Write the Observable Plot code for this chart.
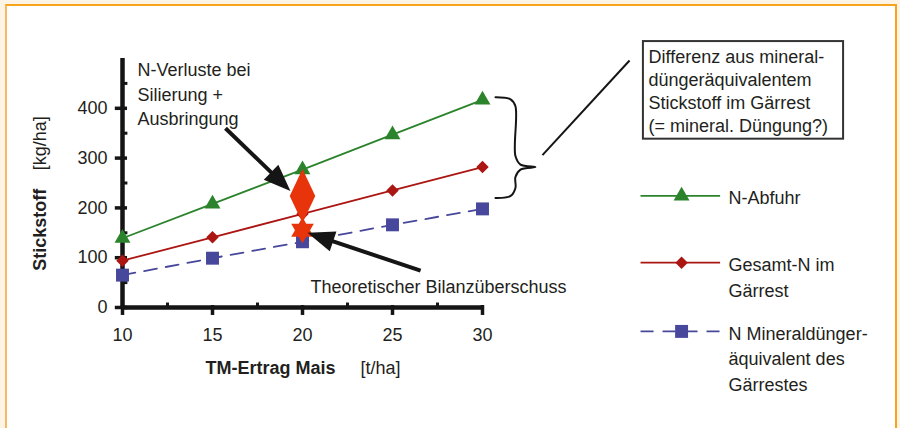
<!DOCTYPE html>
<html><head><meta charset="utf-8">
<script src="https://cdn.jsdelivr.net/npm/d3@7"></script>
<script src="https://cdn.jsdelivr.net/npm/@observablehq/plot@0.6"></script>
<style>
html,body{margin:0;padding:0;background:#fdf4e6;}
#wrap{position:relative;width:900px;height:428px;overflow:hidden;background:#fdf4e6;}
#panel{position:absolute;left:5px;top:4px;width:888px;height:500px;background:#fff;border:2px solid #f7a41c;border-left-color:#f8b860;}
#chart{position:absolute;left:0;top:0;}
</style></head><body>
<div id="wrap"><div id="panel"></div><div id="chart"></div></div>
<script>
// ---- data ----
const ertrag   = [10, 15, 20, 25, 30];          // TM-Ertrag Mais [t/ha]
const nAbfuhr  = [139, 208, 277, 347, 417];     // N-Abfuhr [kg/ha]
const gesamtN  = [94, 141, 188, 235, 282];      // Gesamt-N im Gärrest
const mineralN = [65, 99, 132, 166, 198];       // N Mineraldüngeräquivalent
const seriesNames = ["N-Abfuhr", "Gesamt-N im\nGärrest", "N Mineraldünger-\näquivalent des\nGärrestes"];
const xTicks = [10, 15, 20, 25, 30];
const yTicks = [0, 100, 200, 300, 400];
const xMinor = [12.5, 17.5, 22.5, 27.5];
const yMinor = [50, 150, 250, 350, 450];
const verlustPunkt = [{x: 20, y: 224}];       // N-Verluste bei Silierung + Ausbringung
const ueberschussPunkt = [{x: 20, y: 155}];   // Theoretischer Bilanzüberschuss

// ---- styles ----
const FONT = "'Liberation Sans', Arial, Helvetica, sans-serif";
const TXT = "#231f20";
const AX = "#151515";
const cGreen = "#2b832b", cRed = "#ab1512", cBlue = "#47479c", cHi = "#e8340a";
const dims = {width: 900, height: 428, marginLeft: 122, marginRight: 418, marginTop: 58, marginBottom: 121,
  x: {domain: [10, 30], axis: null}, y: {domain: [0, 500], axis: null}};

const rowsOf = (vals) => ertrag.map((x, i) => ({x, y: vals[i]}));
const green = rowsOf(nAbfuhr), red = rowsOf(gesamtN), blue = rowsOf(mineralN);

// ---- annotation layout (data units) ----
const arrows = [
  {x1: 15.72, y1: 360, x2: 19.33, y2: 234},
  {x1: 26.56, y1: 74, x2: 20.28, y2: 150}
];
const brace = [
  {x: 30.72, y: 422}, {x: 31.56, y: 418}, {x: 31.83, y: 404}, {x: 31.83, y: 304},
  {x: 32.11, y: 287}, {x: 32.94, y: 282}, {x: 32.11, y: 277}, {x: 31.83, y: 262},
  {x: 31.83, y: 240}, {x: 31.56, y: 224}, {x: 30.72, y: 220}
];
const pointer = [{x1: 33.33, y1: 306, x2: 38.17, y2: 496}];
const box = [{x1: 38.94, x2: 50.06, y1: 534, y2: 338}];
const boxText = [{x: 39.22, y: 437, t: "Differenz aus mineral-\ndüngeräquivalentem\nStickstoff im Gärrest\n(= mineral. Düngung?)"}];
const legendRows = [
  {x1: 38.78, x2: 43.2, xm: 41.06, y: 224, ty: 224},
  {x1: 38.78, x2: 43.2, xm: 41.06, y: 90, ty: 64},
  {x1: 38.78, x2: 43.2, xm: 41.06, y: -48, ty: -100}
];

// ---- custom symbols ----
const headSymbol = {draw(ctx, size) { const s = Math.sqrt(size); const L = 1.9 * s, W = 0.74 * s;
  ctx.moveTo(0, 0); ctx.lineTo(-L, -W); ctx.lineTo(-L, W); ctx.closePath(); }};
const tallDiamond = {draw(ctx, size) { const s = Math.sqrt(size); const w = 0.72 * s, h = 1.52 * s;
  ctx.moveTo(0, -h); ctx.lineTo(w, 0); ctx.lineTo(0, h); ctx.lineTo(-w, 0); ctx.closePath(); }};
const hexagram = {draw(ctx, size) { const R = 0.92 * Math.sqrt(size), r = R / Math.sqrt(3);
  for (let i = 0; i < 12; i++) { const a = -Math.PI / 2 + i * Math.PI / 6; const rr = i % 2 ? r : R;
    const px = rr * Math.cos(a), py = rr * Math.sin(a); if (i) ctx.lineTo(px, py); else ctx.moveTo(px, py); }
  ctx.closePath(); }};

// ---- compute arrow geometry through the scales ----
const base = Plot.plot({...dims, marks: [Plot.ruleY([0])]});
const sx = base.scale("x"), sy = base.scale("y");
const ap = (s, v) => s.apply ? s.apply(v) : s.range[0] + (v - s.domain[0]) / (s.domain[1] - s.domain[0]) * (s.range[1] - s.range[0]);
const arrowData = arrows.map(a => {
  const dx = ap(sx, a.x2) - ap(sx, a.x1), dy = ap(sy, a.y2) - ap(sy, a.y1);
  const len = Math.hypot(dx, dy), f = 16 / len;
  return {...a, angle: Math.atan2(dy, dx) * 180 / Math.PI,
    ex: a.x2 + (a.x1 - a.x2) * f, ey: a.y2 + (a.y1 - a.y2) * f};
});

const chart = Plot.plot({
  ...dims,
  style: {background: "transparent", overflow: "visible", fontFamily: FONT, fontSize: "18px", color: TXT},
  marks: [
    // axes
    Plot.ruleX([10], {y1: 0, y2: 500, stroke: AX, strokeWidth: 4.5}),
    Plot.ruleY([0], {x1: 10, x2: 30, stroke: AX, strokeWidth: 4.5}),
    Plot.ruleY(yMinor, {x1: 10, x2: 10.3, stroke: AX, strokeWidth: 3}),
    Plot.ruleY(yTicks, {x1: 9.6, x2: 10.28, stroke: AX, strokeWidth: 3.5}),
    Plot.ruleX(xMinor, {y1: 0, y2: 9, stroke: AX, strokeWidth: 3}),
    Plot.ruleX(xTicks, {y1: -16, y2: 4, stroke: AX, strokeWidth: 3.5}),
    Plot.axisY(yTicks, {tickSize: 0, tickPadding: 15, fontSize: 18, fill: TXT}),
    Plot.axisX(xTicks, {tickSize: 0, tickPadding: 21, fontSize: 18, fill: TXT}),
    Plot.text([{x: 5.44, y: 156}], {x: "x", y: "y", text: () => "Stickstoff", rotate: -90, fontWeight: "bold", fontSize: 18, fill: TXT}),
    Plot.text([{x: 5.44, y: 330}], {x: "x", y: "y", text: () => "[kg/ha]", rotate: -90, fontSize: 18, fill: TXT}),
    Plot.text([{x: 14.61, y: -122}], {x: "x", y: "y", text: () => "TM-Ertrag Mais", textAnchor: "start", fontWeight: "bold", fontSize: 18, fill: TXT}),
    Plot.text([{x: 23.22, y: -122}], {x: "x", y: "y", text: () => "[t/ha]", textAnchor: "start", fontSize: 18, fill: TXT}),
    // series
    Plot.line(green, {x: "x", y: "y", stroke: cGreen, strokeWidth: 1.8}),
    Plot.line(red, {x: "x", y: "y", stroke: cRed, strokeWidth: 1.8}),
    Plot.line(blue, {x: "x", y: "y", stroke: cBlue, strokeWidth: 1.8, strokeDasharray: "13,9"}),
    Plot.dot(blue, {x: "x", y: "y", symbol: "square", r: 7.3, fill: cBlue}),
    Plot.dot(red, {x: "x", y: "y", symbol: "diamond2", r: 5.6, fill: cRed}),
    Plot.dot(green, {x: "x", y: "y", symbol: "triangle", r: 5.9, fill: cGreen}),
    // highlight markers
    Plot.dot(verlustPunkt, {x: "x", y: "y", symbol: tallDiamond, r: 10, fill: cHi}),
    Plot.dot(ueberschussPunkt, {x: "x", y: "y", symbol: hexagram, r: 8, fill: cHi}),
    // arrows
    Plot.link(arrowData, {x1: "x1", y1: "y1", x2: "ex", y2: "ey", stroke: AX, strokeWidth: 4}),
    Plot.dot(arrowData, {x: "x2", y: "y2", rotate: "angle", symbol: headSymbol, r: 8, fill: AX}),
    // annotation texts
    Plot.text([{x: 10.83, y: 431}], {x: "x", y: "y", text: () => "N-Verluste bei\nSilierung +\nAusbringung", textAnchor: "start", lineAnchor: "middle", lineHeight: 1.36, fontSize: 18, fill: TXT}),
    Plot.text([{x: 20.44, y: 40}], {x: "x", y: "y", text: () => "Theoretischer Bilanzüberschuss", textAnchor: "start", fontSize: 18, fill: TXT}),
    // brace and box
    Plot.line(brace, {x: "x", y: "y", curve: "catmull-rom", stroke: AX, strokeWidth: 2}),
    Plot.link(pointer, {x1: "x1", y1: "y1", x2: "x2", y2: "y2", stroke: AX, strokeWidth: 2}),
    Plot.rect(box, {x1: "x1", x2: "x2", y1: "y1", y2: "y2", fill: "white", stroke: "#333", strokeWidth: 2}),
    Plot.text(boxText, {x: "x", y: "y", text: "t", textAnchor: "start", lineAnchor: "middle", lineHeight: 1.28, fontSize: 18, fill: TXT}),
    // legend
    Plot.link([legendRows[0]], {x1: "x1", x2: "x2", y1: "y", y2: "y", stroke: cGreen, strokeWidth: 1.8}),
    Plot.link([legendRows[1]], {x1: "x1", x2: "x2", y1: "y", y2: "y", stroke: cRed, strokeWidth: 1.8}),
    Plot.link([legendRows[2]], {x1: "x1", x2: "x2", y1: "y", y2: "y", stroke: cBlue, strokeWidth: 1.8, strokeDasharray: "13,9"}),
    Plot.dot([legendRows[0]], {x: "xm", y: "y", symbol: "triangle", r: 5.9, fill: cGreen}),
    Plot.dot([legendRows[1]], {x: "xm", y: "y", symbol: "diamond2", r: 5.6, fill: cRed}),
    Plot.dot([legendRows[2]], {x: "xm", y: "y", symbol: "square", r: 7.3, fill: cBlue}),
    Plot.text(legendRows, {x: () => 43.67, y: "ty", text: (d, i) => seriesNames[i], textAnchor: "start", lineAnchor: "middle", lineHeight: 1.42, fontSize: 18, fill: TXT})
  ]
});
document.getElementById("chart").appendChild(chart);
</script>
</body></html>
